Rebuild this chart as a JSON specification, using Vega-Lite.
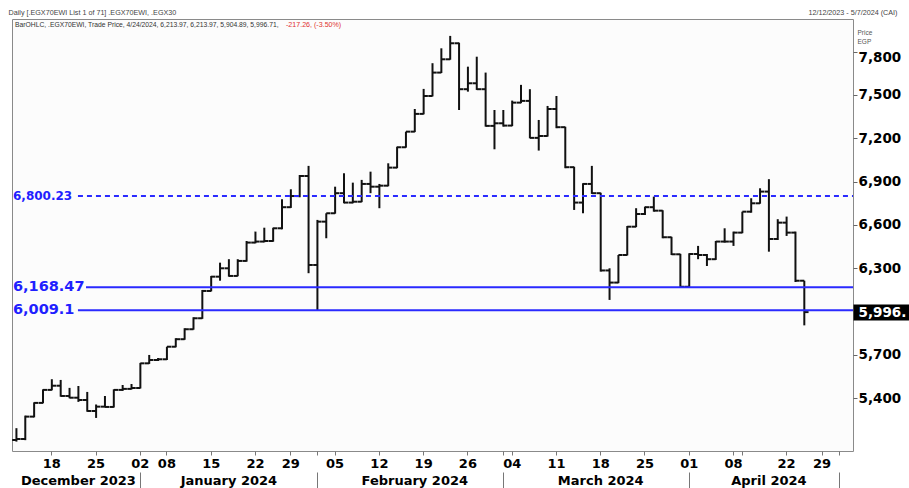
{
  "$schema": "https://vega.github.io/schema/vega-lite/v6.json",
  "width": 841,
  "height": 432,
  "autosize": {"type": "none"},
  "padding": {"left": 12, "top": 19, "right": 56, "bottom": 37},
  "background": "white",
  "config": {
    "view": {"stroke": "#8a8a8a", "strokeWidth": 1, "fill": "#fcfcfc"},
    "axis": {"labelFont": "DejaVu Sans", "labelFontWeight": "bold", "labelColor": "#000", "grid": false, "domain": false}
  },
  "datasets": {
    "ohlc": [
      {"d": "2023-12-12", "o": 5111, "h": 5193, "l": 5100, "c": 5118},
      {"d": "2023-12-13", "o": 5118, "h": 5280, "l": 5110, "c": 5273},
      {"d": "2023-12-14", "o": 5273, "h": 5372, "l": 5268, "c": 5368},
      {"d": "2023-12-17", "o": 5368, "h": 5462, "l": 5365, "c": 5458},
      {"d": "2023-12-18", "o": 5458, "h": 5532, "l": 5455, "c": 5487},
      {"d": "2023-12-19", "o": 5487, "h": 5527, "l": 5411, "c": 5416},
      {"d": "2023-12-20", "o": 5416, "h": 5472, "l": 5400, "c": 5404},
      {"d": "2023-12-21", "o": 5404, "h": 5485, "l": 5375, "c": 5388},
      {"d": "2023-12-24", "o": 5388, "h": 5444, "l": 5307, "c": 5312},
      {"d": "2023-12-25", "o": 5312, "h": 5357, "l": 5264, "c": 5342},
      {"d": "2023-12-26", "o": 5342, "h": 5416, "l": 5338, "c": 5340},
      {"d": "2023-12-27", "o": 5340, "h": 5462, "l": 5336, "c": 5458},
      {"d": "2023-12-28", "o": 5458, "h": 5492, "l": 5451, "c": 5465},
      {"d": "2023-12-31", "o": 5465, "h": 5499, "l": 5461, "c": 5471},
      {"d": "2024-01-02", "o": 5471, "h": 5645, "l": 5468, "c": 5642},
      {"d": "2024-01-03", "o": 5642, "h": 5700, "l": 5638, "c": 5665},
      {"d": "2024-01-04", "o": 5665, "h": 5679, "l": 5658, "c": 5670},
      {"d": "2024-01-08", "o": 5670, "h": 5757, "l": 5665, "c": 5757},
      {"d": "2024-01-09", "o": 5757, "h": 5816, "l": 5753, "c": 5809},
      {"d": "2024-01-10", "o": 5809, "h": 5885, "l": 5805, "c": 5878},
      {"d": "2024-01-11", "o": 5878, "h": 5961, "l": 5875, "c": 5954},
      {"d": "2024-01-14", "o": 5954, "h": 6150, "l": 5950, "c": 6143},
      {"d": "2024-01-15", "o": 6143, "h": 6247, "l": 6140, "c": 6242},
      {"d": "2024-01-16", "o": 6242, "h": 6339, "l": 6214, "c": 6300},
      {"d": "2024-01-17", "o": 6300, "h": 6363, "l": 6242, "c": 6247},
      {"d": "2024-01-18", "o": 6247, "h": 6363, "l": 6245, "c": 6351},
      {"d": "2024-01-21", "o": 6351, "h": 6489, "l": 6346, "c": 6478},
      {"d": "2024-01-22", "o": 6478, "h": 6554, "l": 6473, "c": 6485},
      {"d": "2024-01-23", "o": 6485, "h": 6581, "l": 6480, "c": 6489},
      {"d": "2024-01-24", "o": 6489, "h": 6581, "l": 6484, "c": 6577},
      {"d": "2024-01-28", "o": 6577, "h": 6778, "l": 6570, "c": 6723},
      {"d": "2024-01-29", "o": 6723, "h": 6847, "l": 6718, "c": 6800.23},
      {"d": "2024-01-30", "o": 6800, "h": 6946, "l": 6792, "c": 6939},
      {"d": "2024-01-31", "o": 6939, "h": 7009, "l": 6266, "c": 6323},
      {"d": "2024-02-01", "o": 6323, "h": 6635, "l": 6009.1, "c": 6623},
      {"d": "2024-02-04", "o": 6623, "h": 6681, "l": 6508, "c": 6681},
      {"d": "2024-02-05", "o": 6681, "h": 6865, "l": 6678, "c": 6820},
      {"d": "2024-02-06", "o": 6820, "h": 6958, "l": 6750, "c": 6755},
      {"d": "2024-02-07", "o": 6755, "h": 6893, "l": 6750, "c": 6761},
      {"d": "2024-02-08", "o": 6761, "h": 6912, "l": 6758, "c": 6884},
      {"d": "2024-02-11", "o": 6884, "h": 6969, "l": 6820, "c": 6865},
      {"d": "2024-02-12", "o": 6865, "h": 6884, "l": 6716, "c": 6872},
      {"d": "2024-02-13", "o": 6872, "h": 7027, "l": 6868, "c": 6997},
      {"d": "2024-02-14", "o": 6997, "h": 7142, "l": 6993, "c": 7138},
      {"d": "2024-02-15", "o": 7138, "h": 7246, "l": 7135, "c": 7246},
      {"d": "2024-02-18", "o": 7246, "h": 7403, "l": 7243, "c": 7369},
      {"d": "2024-02-19", "o": 7369, "h": 7542, "l": 7366, "c": 7493},
      {"d": "2024-02-20", "o": 7493, "h": 7720, "l": 7490, "c": 7655},
      {"d": "2024-02-21", "o": 7655, "h": 7823, "l": 7652, "c": 7747},
      {"d": "2024-02-22", "o": 7747, "h": 7909, "l": 7744, "c": 7858},
      {"d": "2024-02-25", "o": 7858, "h": 7862, "l": 7396, "c": 7540},
      {"d": "2024-02-26", "o": 7540, "h": 7696, "l": 7523, "c": 7581},
      {"d": "2024-02-27", "o": 7581, "h": 7765, "l": 7535, "c": 7540},
      {"d": "2024-02-28", "o": 7540, "h": 7655, "l": 7281, "c": 7286},
      {"d": "2024-02-29", "o": 7286, "h": 7396, "l": 7124, "c": 7304},
      {"d": "2024-03-03", "o": 7304, "h": 7396, "l": 7281, "c": 7288},
      {"d": "2024-03-04", "o": 7288, "h": 7461, "l": 7284, "c": 7447},
      {"d": "2024-03-05", "o": 7447, "h": 7570, "l": 7443, "c": 7459},
      {"d": "2024-03-06", "o": 7459, "h": 7540, "l": 7200, "c": 7203},
      {"d": "2024-03-07", "o": 7203, "h": 7327, "l": 7115, "c": 7216},
      {"d": "2024-03-10", "o": 7216, "h": 7424, "l": 7212, "c": 7403},
      {"d": "2024-03-11", "o": 7403, "h": 7493, "l": 7270, "c": 7277},
      {"d": "2024-03-12", "o": 7277, "h": 7280, "l": 6993, "c": 7000},
      {"d": "2024-03-13", "o": 7000, "h": 7003, "l": 6704, "c": 6755},
      {"d": "2024-03-14", "o": 6755, "h": 6889, "l": 6681, "c": 6884},
      {"d": "2024-03-17", "o": 6884, "h": 7009, "l": 6815, "c": 6820},
      {"d": "2024-03-18", "o": 6820, "h": 6823, "l": 6277, "c": 6285},
      {"d": "2024-03-19", "o": 6285, "h": 6300, "l": 6081, "c": 6201},
      {"d": "2024-03-20", "o": 6201, "h": 6392, "l": 6197, "c": 6392},
      {"d": "2024-03-21", "o": 6392, "h": 6593, "l": 6389, "c": 6588},
      {"d": "2024-03-24", "o": 6588, "h": 6716, "l": 6585, "c": 6676},
      {"d": "2024-03-25", "o": 6676, "h": 6727, "l": 6669, "c": 6723},
      {"d": "2024-03-26", "o": 6723, "h": 6796, "l": 6692, "c": 6699},
      {"d": "2024-03-27", "o": 6699, "h": 6702, "l": 6508, "c": 6515},
      {"d": "2024-03-28", "o": 6515, "h": 6518, "l": 6392, "c": 6397},
      {"d": "2024-03-31", "o": 6397, "h": 6400, "l": 6168.47, "c": 6172},
      {"d": "2024-04-01", "o": 6172, "h": 6404, "l": 6168.47, "c": 6399},
      {"d": "2024-04-02", "o": 6399, "h": 6455, "l": 6363, "c": 6392},
      {"d": "2024-04-03", "o": 6392, "h": 6399, "l": 6316, "c": 6363},
      {"d": "2024-04-04", "o": 6363, "h": 6489, "l": 6358, "c": 6485},
      {"d": "2024-04-07", "o": 6485, "h": 6577, "l": 6478, "c": 6485},
      {"d": "2024-04-08", "o": 6485, "h": 6554, "l": 6455, "c": 6547},
      {"d": "2024-04-15", "o": 6547, "h": 6692, "l": 6543, "c": 6692},
      {"d": "2024-04-16", "o": 6692, "h": 6785, "l": 6685, "c": 6750},
      {"d": "2024-04-17", "o": 6750, "h": 6854, "l": 6747, "c": 6831},
      {"d": "2024-04-18", "o": 6831, "h": 6917, "l": 6415, "c": 6503},
      {"d": "2024-04-21", "o": 6503, "h": 6640, "l": 6496, "c": 6616},
      {"d": "2024-04-22", "o": 6616, "h": 6658, "l": 6524, "c": 6547},
      {"d": "2024-04-23", "o": 6547, "h": 6554, "l": 6205, "c": 6213.97},
      {"d": "2024-04-24", "o": 6213.97, "h": 6213.97, "l": 5904.89, "c": 5996.71}
    ],
    "levels": [{"level": 6800.23}, {"level": 6168.47}, {"level": 6009.1}],
    "header": [{"t": "BarOHLC, .EGX70EWI, Trade Price, 4/24/2024, 6,213.97, 6,213.97, 5,904.89, 5,996.71,", "chg": "-217.26, (-3.50%)"}]
  },
  "resolve": {"axis": {"x": "independent", "y": "independent"}},
  "layer": [
    {
      "data": {"name": "ohlc"},
      "mark": {"type": "rule", "color": "#111", "strokeWidth": 2},
      "encoding": {
        "x": {"field": "d", "type": "ordinal",
          "scale": {"type": "band", "paddingInner": 0, "paddingOuter": 0, "domain": ["2023-12-12","2023-12-13","2023-12-14","2023-12-17","2023-12-18","2023-12-19","2023-12-20","2023-12-21","2023-12-24","2023-12-25","2023-12-26","2023-12-27","2023-12-28","2023-12-31","2024-01-02","2024-01-03","2024-01-04","2024-01-08","2024-01-09","2024-01-10","2024-01-11","2024-01-14","2024-01-15","2024-01-16","2024-01-17","2024-01-18","2024-01-21","2024-01-22","2024-01-23","2024-01-24","2024-01-28","2024-01-29","2024-01-30","2024-01-31","2024-02-01","2024-02-04","2024-02-05","2024-02-06","2024-02-07","2024-02-08","2024-02-11","2024-02-12","2024-02-13","2024-02-14","2024-02-15","2024-02-18","2024-02-19","2024-02-20","2024-02-21","2024-02-22","2024-02-25","2024-02-26","2024-02-27","2024-02-28","2024-02-29","2024-03-03","2024-03-04","2024-03-05","2024-03-06","2024-03-07","2024-03-10","2024-03-11","2024-03-12","2024-03-13","2024-03-14","2024-03-17","2024-03-18","2024-03-19","2024-03-20","2024-03-21","2024-03-24","2024-03-25","2024-03-26","2024-03-27","2024-03-28","2024-03-31","2024-04-01","2024-04-02","2024-04-03","2024-04-04","2024-04-07","2024-04-08","2024-04-15","2024-04-16","2024-04-17","2024-04-18","2024-04-21","2024-04-22","2024-04-23","2024-04-24","2024-04-28","2024-04-29","2024-04-30","2024-05-02","2024-05-05"]},
          "axis": {
            "orient": "bottom", "title": null,
            "values": ["2023-12-18","2023-12-25","2024-01-02","2024-01-08","2024-01-15","2024-01-22","2024-01-29","2024-02-01","2024-02-05","2024-02-12","2024-02-19","2024-02-26","2024-03-03","2024-03-04","2024-03-11","2024-03-18","2024-03-25","2024-04-01","2024-04-08","2024-04-15","2024-04-22","2024-04-29","2024-05-02"],
            "labelExpr": "indexof(['2024-02-01','2024-03-03','2024-04-15','2024-05-02'], datum.value) >= 0 ? '' : slice(datum.value, 8)",
            "ticks": true, "tickSize": 4, "tickColor": "#777", "labelPadding": 2, "labelFontSize": 13, "labelOverlap": false, "labelAngle": 0
          }
        },
        "y": {"field": "l", "type": "quantitative",
          "scale": {"domain": [5035, 8026], "nice": false, "zero": false},
          "axis": {
            "orient": "right",
            "values": [5400, 5700, 5996.71, 6300, 6600, 6900, 7200, 7500, 7800],
            "labelExpr": "datum.value == 5996.71 ? '5,996.' : format(datum.value, ',')",
            "labelFontSize": 13.5, "labelOverlap": false, "labelBaseline": "middle",
            "labelPadding": {"condition": {"test": "datum.value == 5996.71", "value": -51}, "value": 1},
            "labelOffset": {"condition": {"test": "datum.value == 7800", "value": 6}, "value": 0},
            "labelColor": {"condition": {"test": "datum.value == 5996.71", "value": "#ffffff"}, "value": "#000000"},
            "ticks": true,
            "tickSize": {"condition": {"test": "datum.value == 5996.71", "value": 56}, "value": 4},
            "tickWidth": {"condition": {"test": "datum.value == 5996.71", "value": 16}, "value": 1},
            "tickColor": {"condition": {"test": "datum.value == 5996.71", "value": "#000000"}, "value": "#666666"},
            "title": ["Price", "EGP"], "titleAngle": 0, "titleAlign": "left", "titleBaseline": "top",
            "titleX": 4, "titleY": 10, "titleFont": "Liberation Sans", "titleFontSize": 6.5, "titleFontWeight": "normal", "titleColor": "#555", "titleLineHeight": 9
          }
        },
        "y2": {"field": "h"}
      }
    },
    {
      "data": {"name": "ohlc"},
      "mark": {"type": "rule", "color": "#111", "strokeWidth": 2},
      "encoding": {
        "x": {"field": "d", "type": "ordinal", "bandPosition": 0.02,
          "scale": {"type": "band", "paddingInner": 0, "paddingOuter": 0},
          "axis": {
            "orient": "bottom", "offset": 22,
            "values": ["2023-12-21", "2024-01-17", "2024-02-18", "2024-03-18", "2024-04-18"],
            "labelExpr": "datum.value == '2023-12-21' ? 'December 2023' : datum.value == '2024-01-17' ? 'January 2024' : datum.value == '2024-02-18' ? 'February 2024' : datum.value == '2024-03-18' ? 'March 2024' : 'April 2024'",
            "ticks": false, "labelPadding": 1, "labelFontSize": 13, "labelOverlap": false, "labelAngle": 0,
            "title": "Daily [.EGX70EWI List 1 of 71] .EGX70EWI, .EGX30", "titleAngle": 0, "titleAlign": "left", "titleBaseline": "middle",
            "titleX": -4, "titleY": -461, "titleFont": "Liberation Sans", "titleFontSize": 7.2, "titleFontWeight": "normal", "titleColor": "#444"
          }
        },
        "x2": {"field": "d", "bandPosition": 0.5},
        "y": {"field": "o", "type": "quantitative", "scale": {"domain": [5035, 8026], "nice": false, "zero": false}, "axis": null}
      }
    },
    {
      "data": {"name": "ohlc"},
      "mark": {"type": "rule", "color": "#111", "strokeWidth": 2},
      "encoding": {
        "x": {"field": "d", "type": "ordinal", "bandPosition": 0.5,
          "scale": {"type": "band", "paddingInner": 0, "paddingOuter": 0},
          "axis": {
            "orient": "bottom", "offset": 21,
            "values": ["2024-01-02", "2024-02-01", "2024-03-03", "2024-04-01", "2024-05-02"],
            "labels": false, "ticks": true, "tickSize": 16, "tickColor": "#777", "tickWidth": 1,
            "title": "12/12/2023 - 5/7/2024 (CAI)", "titleAngle": 0, "titleAlign": "right", "titleBaseline": "middle",
            "titleX": 885, "titleY": -460, "titleFont": "Liberation Sans", "titleFontSize": 7.2, "titleFontWeight": "normal", "titleColor": "#444"
          }
        },
        "x2": {"field": "d", "bandPosition": 0.98},
        "y": {"field": "c", "type": "quantitative", "scale": {"domain": [5035, 8026], "nice": false, "zero": false}, "axis": null}
      }
    },
    {
      "data": {"name": "levels"},
      "transform": [{"filter": "datum.level == 6800.23"}],
      "mark": {"type": "rule", "color": "#2a2aff", "strokeWidth": 2, "strokeDash": [5, 4]},
      "encoding": {
        "x": {"datum": "2023-12-21", "type": "ordinal", "bandPosition": 0.45, "scale": {"type": "band", "paddingInner": 0, "paddingOuter": 0}, "axis": null},
        "x2": {"datum": "2024-05-05", "bandPosition": 1},
        "y": {"field": "level", "type": "quantitative", "scale": {"domain": [5035, 8026], "nice": false, "zero": false}, "axis": null}
      }
    },
    {
      "data": {"name": "levels"},
      "transform": [{"filter": "datum.level == 6168.47"}],
      "mark": {"type": "rule", "color": "#2a2aff", "strokeWidth": 2},
      "encoding": {
        "x": {"datum": "2023-12-24", "type": "ordinal", "bandPosition": 0.36, "scale": {"type": "band", "paddingInner": 0, "paddingOuter": 0}, "axis": null},
        "x2": {"datum": "2024-05-05", "bandPosition": 1},
        "y": {"field": "level", "type": "quantitative", "scale": {"domain": [5035, 8026], "nice": false, "zero": false}, "axis": null}
      }
    },
    {
      "data": {"name": "levels"},
      "transform": [{"filter": "datum.level == 6009.1"}],
      "mark": {"type": "rule", "color": "#2a2aff", "strokeWidth": 2},
      "encoding": {
        "x": {"datum": "2023-12-21", "type": "ordinal", "bandPosition": 0.45, "scale": {"type": "band", "paddingInner": 0, "paddingOuter": 0}, "axis": null},
        "x2": {"datum": "2024-05-05", "bandPosition": 1},
        "y": {"field": "level", "type": "quantitative", "scale": {"domain": [5035, 8026], "nice": false, "zero": false}, "axis": null}
      }
    },
    {
      "data": {"name": "levels"},
      "mark": {"type": "text", "color": "#1f1fff", "font": "DejaVu Sans", "fontWeight": "bold", "align": "left", "baseline": "middle", "dx": 1},
      "encoding": {
        "x": {"datum": "2023-12-12", "type": "ordinal", "bandPosition": 0, "scale": {"type": "band", "paddingInner": 0, "paddingOuter": 0}, "axis": null},
        "y": {"field": "level", "type": "quantitative", "scale": {"domain": [5035, 8026], "nice": false, "zero": false}, "axis": null},
        "text": {"field": "level", "type": "quantitative", "format": ",.2~f"},
        "size": {"condition": {"test": "datum.level == 6800.23", "value": 12}, "value": 14.5}
      }
    },
    {
      "data": {"name": "header"},
      "mark": {"type": "text", "color": "#333", "font": "Liberation Sans", "fontSize": 6.75, "align": "left", "baseline": "middle"},
      "encoding": {
        "x": {"datum": "2023-12-12", "type": "ordinal", "bandPosition": 0.35, "scale": {"type": "band", "paddingInner": 0, "paddingOuter": 0}, "axis": null},
        "y": {"datum": 7984, "type": "quantitative", "scale": {"domain": [5035, 8026], "nice": false, "zero": false}, "axis": null},
        "text": {"field": "t"}
      }
    },
    {
      "data": {"name": "header"},
      "mark": {"type": "text", "color": "#e03030", "font": "Liberation Sans", "fontSize": 7.1, "align": "left", "baseline": "middle"},
      "encoding": {
        "x": {"datum": "2024-01-28", "type": "ordinal", "bandPosition": 0.95, "scale": {"type": "band", "paddingInner": 0, "paddingOuter": 0}, "axis": null},
        "y": {"datum": 7984, "type": "quantitative", "scale": {"domain": [5035, 8026], "nice": false, "zero": false}, "axis": null},
        "text": {"field": "chg"}
      }
    }
  ]
}
